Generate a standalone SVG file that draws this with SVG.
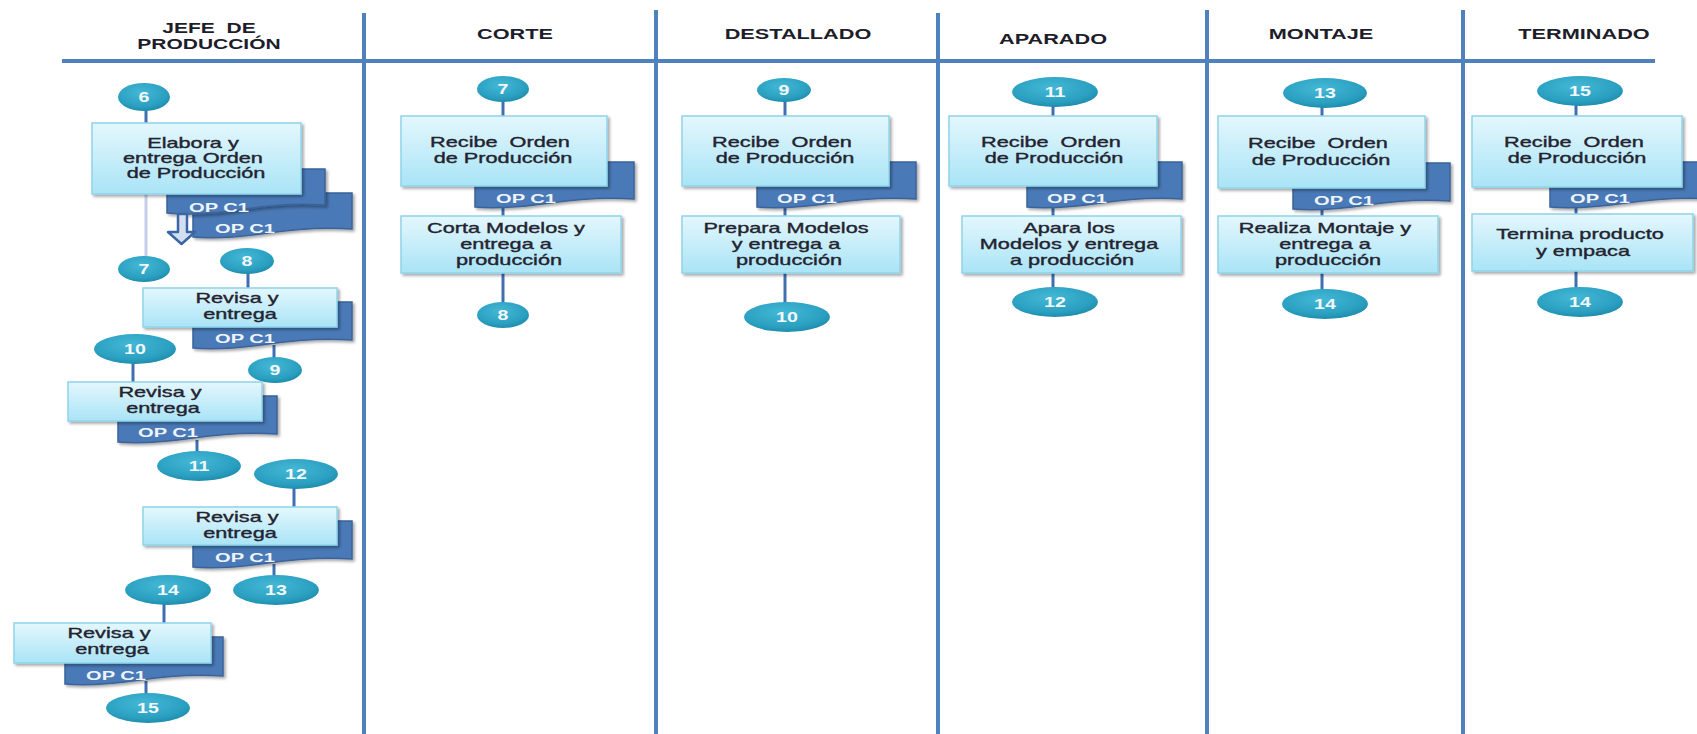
<svg xmlns="http://www.w3.org/2000/svg" width="1697" height="734" viewBox="0 0 1697 734">
  <style>
    .lane { stroke: #4f81bd; stroke-width: 4; fill: none; }
    .hdr { font-family: "Liberation Sans", Arial, sans-serif; font-weight: bold; font-size: 14px; fill: #1d1d2b; text-anchor: middle; }
    .box { fill: url(#boxFill); stroke: #8fd4ea; stroke-width: 1.5; filter: url(#shadow); }
    .bt { font-family: "Liberation Sans", Arial, sans-serif; font-size: 14px; fill: #232330; stroke: #232330; stroke-width: 0.35; text-anchor: middle; }
    .doc { fill: #4a79b6; stroke: #3b6399; stroke-width: 1.5; filter: url(#shadow); }
    .dt { font-family: "Liberation Sans", Arial, sans-serif; font-weight: bold; font-size: 13px; fill: #eef3fa; text-anchor: middle; }
    .oval { fill: url(#ovalFill); }
    .ot { font-family: "Liberation Sans", Arial, sans-serif; font-weight: bold; font-size: 14px; fill: #f2f7fa; text-anchor: middle; }
    .cn { stroke: #3f6fb1; stroke-width: 3; fill: none; }
    .cn-light { stroke: #c6cfe9; stroke-width: 3; fill: none; }
  </style>
  <defs>
    <linearGradient id="boxFill" x1="0" y1="0" x2="0" y2="1">
      <stop offset="0" stop-color="#e4f7fd"/>
      <stop offset="1" stop-color="#a9e4f6"/>
    </linearGradient>
    <radialGradient id="ovalFill" cx="0.45" cy="0.35" r="0.7">
      <stop offset="0" stop-color="#45b8d6"/>
      <stop offset="0.7" stop-color="#2a9fc0"/>
      <stop offset="1" stop-color="#1b87a7"/>
    </radialGradient>
    <filter id="shadow" x="-10%" y="-10%" width="125%" height="130%">
      <feGaussianBlur in="SourceAlpha" stdDeviation="1.5"/>
      <feOffset dx="2" dy="2" result="b"/>
      <feComponentTransfer><feFuncA type="linear" slope="0.35"/></feComponentTransfer>
      <feMerge><feMergeNode/><feMergeNode in="SourceGraphic"/></feMerge>
    </filter>
  </defs>

  <rect width="1697" height="734" fill="#ffffff"/>

  <!-- swimlane frame -->
  <g id="lanes">
    <line class="lane" x1="62" y1="61" x2="1655" y2="61" stroke-width="3"/>
    <line class="lane" x1="364" y1="13" x2="364" y2="734"/>
    <line class="lane" x1="656" y1="10" x2="656" y2="734"/>
    <line class="lane" x1="938" y1="13" x2="938" y2="734"/>
    <line class="lane" x1="1207" y1="10" x2="1207" y2="734"/>
    <line class="lane" x1="1463" y1="10" x2="1463" y2="734"/>
  </g>

  <!-- lane titles -->
  <g id="headers">
    <text class="hdr" transform="translate(209,33) scale(1.5,1)">JEFE&#160; DE</text>
    <text class="hdr" transform="translate(209,49) scale(1.5,1)">PRODUCCIÓN</text>
    <text class="hdr" transform="translate(515,39) scale(1.55,1)">CORTE</text>
    <text class="hdr" transform="translate(798,39) scale(1.55,1)">DESTALLADO</text>
    <text class="hdr" transform="translate(1053,44) scale(1.55,1)">APARADO</text>
    <text class="hdr" transform="translate(1321,39) scale(1.55,1)">MONTAJE</text>
    <text class="hdr" transform="translate(1584,39) scale(1.55,1)">TERMINADO</text>
  </g>

  <!-- connectors -->
  <g id="connectors">
    <line class="cn" x1="146" y1="110" x2="146" y2="124"/>
    <line class="cn-light" x1="146" y1="194" x2="146" y2="257"/>
    <line class="cn" x1="248" y1="273" x2="248" y2="289"/>
    <line class="cn" x1="274" y1="345" x2="274" y2="358"/>
    <line class="cn" x1="133" y1="363" x2="133" y2="383"/>
    <line class="cn" x1="197" y1="440" x2="197" y2="452"/>
    <line class="cn" x1="294" y1="488" x2="294" y2="508"/>
    <line class="cn" x1="274" y1="564" x2="274" y2="576"/>
    <line class="cn" x1="164" y1="604" x2="164" y2="624"/>
    <line class="cn" x1="146" y1="681" x2="146" y2="694"/>

    <line class="cn" x1="503" y1="101" x2="503" y2="117"/>
    <line class="cn" x1="503" y1="205" x2="503" y2="217"/>
    <line class="cn" x1="503" y1="273" x2="503" y2="303"/>

    <line class="cn" x1="785" y1="101" x2="785" y2="117"/>
    <line class="cn" x1="785" y1="205" x2="785" y2="217"/>
    <line class="cn" x1="785" y1="273" x2="785" y2="303"/>

    <line class="cn" x1="1053" y1="106" x2="1053" y2="117"/>
    <line class="cn" x1="1053" y1="205" x2="1053" y2="217"/>
    <line class="cn" x1="1053" y1="273" x2="1053" y2="288"/>

    <line class="cn" x1="1322" y1="107" x2="1322" y2="117"/>
    <line class="cn" x1="1322" y1="207" x2="1322" y2="217"/>
    <line class="cn" x1="1322" y1="273" x2="1322" y2="290"/>

    <line class="cn" x1="1576" y1="105" x2="1576" y2="117"/>
    <line class="cn" x1="1576" y1="205" x2="1576" y2="215"/>
    <line class="cn" x1="1576" y1="271" x2="1576" y2="288"/>
  </g>

  <!-- JEFE DE PRODUCCIÓN -->
  <g id="doc-jefe-1b">
    <path class="doc" d="M193,193 H352 V229 C325,227 295,229 268,233 C240,237 215,239 193,237 Z"/>
    <text class="dt" transform="translate(245,233) scale(1.55,1)">OP C1</text>
  </g>
  <g id="doc-jefe-1a">
    <path class="doc" d="M167,169 H325 V205 C300,203 270,205 245,209 C220,213 190,215 167,213 Z"/>
    <text class="dt" transform="translate(219,212) scale(1.55,1)">OP C1</text>
  </g>
  <g id="arrow-copy">
    <path d="M178,214 H187 V232 H195 L181.5,244 L168,232 H178 Z" fill="#d3def0" stroke="#3a66a5" stroke-width="2.5" stroke-linejoin="round"/>
  </g>
  <g id="box-elabora">
    <rect class="box" x="92" y="123" width="209" height="71"/>
    <text class="bt" transform="translate(196,148) scale(1.55,1)">
      <tspan x="0" y="0">Elabora y</tspan>
      <tspan x="0" y="15">entrega Orden</tspan>
      <tspan x="0" y="30">de Producción</tspan>
    </text>
  </g>
  <g id="oval-j6"><ellipse class="oval" cx="144" cy="97" rx="26" ry="14"/><text class="ot" transform="translate(144,102) scale(1.4,1)">6</text></g>
  <g id="oval-j7"><ellipse class="oval" cx="144" cy="269" rx="26" ry="13"/><text class="ot" transform="translate(144,274) scale(1.4,1)">7</text></g>

  <g id="doc-jefe-2">
    <path class="doc" d="M193,302 H352 V340 C325,338 295,340 268,344 C240,348 215,350 193,348 Z"/>
    <text class="dt" transform="translate(245,343) scale(1.55,1)">OP C1</text>
  </g>
  <g id="box-revisa-1">
    <rect class="box" x="143" y="288" width="194" height="39"/>
    <text class="bt" transform="translate(240,303) scale(1.55,1)">
      <tspan x="0" y="0">Revisa y</tspan>
      <tspan x="0" y="16">entrega</tspan>
    </text>
  </g>
  <g id="oval-j8"><ellipse class="oval" cx="247" cy="261" rx="27" ry="13"/><text class="ot" transform="translate(247,266) scale(1.4,1)">8</text></g>
  <g id="oval-j9"><ellipse class="oval" cx="275" cy="370" rx="27" ry="13"/><text class="ot" transform="translate(275,375) scale(1.4,1)">9</text></g>

  <g id="doc-jefe-3">
    <path class="doc" d="M118,396 H277 V434 C250,432 220,434 193,438 C165,442 140,444 118,442 Z"/>
    <text class="dt" transform="translate(168,437) scale(1.55,1)">OP C1</text>
  </g>
  <g id="box-revisa-2">
    <rect class="box" x="68" y="382" width="194" height="39"/>
    <text class="bt" transform="translate(163,397) scale(1.55,1)">
      <tspan x="0" y="0">Revisa y</tspan>
      <tspan x="0" y="16">entrega</tspan>
    </text>
  </g>
  <g id="oval-j10"><ellipse class="oval" cx="135" cy="349" rx="41" ry="15"/><text class="ot" font-size="13" transform="translate(135,354) scale(1.4,1)">10</text></g>
  <g id="oval-j11"><ellipse class="oval" cx="199" cy="466" rx="42" ry="15"/><text class="ot" font-size="13" transform="translate(199,471) scale(1.4,1)">11</text></g>

  <g id="doc-jefe-4">
    <path class="doc" d="M193,521 H352 V559 C325,557 295,559 268,563 C240,567 215,569 193,567 Z"/>
    <text class="dt" transform="translate(245,562) scale(1.55,1)">OP C1</text>
  </g>
  <g id="box-revisa-3">
    <rect class="box" x="143" y="507" width="194" height="38"/>
    <text class="bt" transform="translate(240,522) scale(1.55,1)">
      <tspan x="0" y="0">Revisa y</tspan>
      <tspan x="0" y="16">entrega</tspan>
    </text>
  </g>
  <g id="oval-j12"><ellipse class="oval" cx="296" cy="474" rx="42" ry="15"/><text class="ot" font-size="13" transform="translate(296,479) scale(1.4,1)">12</text></g>
  <g id="oval-j13"><ellipse class="oval" cx="276" cy="590" rx="43" ry="15"/><text class="ot" font-size="13" transform="translate(276,595) scale(1.4,1)">13</text></g>

  <g id="doc-jefe-5">
    <path class="doc" d="M65,637 H223 V676 C196,674 166,676 140,680 C112,684 88,686 65,684 Z"/>
    <text class="dt" transform="translate(116,680) scale(1.55,1)">OP C1</text>
  </g>
  <g id="box-revisa-4">
    <rect class="box" x="14" y="623" width="197" height="40"/>
    <text class="bt" transform="translate(112,638) scale(1.55,1)">
      <tspan x="0" y="0">Revisa y</tspan>
      <tspan x="0" y="16">entrega</tspan>
    </text>
  </g>
  <g id="oval-j14"><ellipse class="oval" cx="168" cy="590" rx="43" ry="15"/><text class="ot" font-size="13" transform="translate(168,595) scale(1.4,1)">14</text></g>
  <g id="oval-j15"><ellipse class="oval" cx="148" cy="708" rx="42" ry="15"/><text class="ot" font-size="13" transform="translate(148,713) scale(1.4,1)">15</text></g>

  <!-- CORTE -->
  <g id="doc-corte">
    <path class="doc" d="M475,162 H634 V199 C607,197 577,199 550,203 C522,207 497,209 475,207 Z"/>
    <text class="dt" transform="translate(526,203) scale(1.55,1)">OP C1</text>
  </g>
  <g id="box-corte-recibe">
    <rect class="box" x="401" y="116" width="206" height="70"/>
    <text class="bt" transform="translate(503,147) scale(1.55,1)">
      <tspan x="0" y="0">Recibe&#160; Orden</tspan>
      <tspan x="0" y="16">de Producción</tspan>
    </text>
  </g>
  <g id="box-corte-corta">
    <rect class="box" x="401" y="216" width="220" height="57"/>
    <text class="bt" transform="translate(509,233) scale(1.55,1)">
      <tspan x="0" y="0">Corta Modelos y</tspan>
      <tspan x="0" y="16">entrega a</tspan>
      <tspan x="0" y="32">producción</tspan>
    </text>
  </g>
  <g id="oval-c7"><ellipse class="oval" cx="503" cy="89" rx="26" ry="13"/><text class="ot" transform="translate(503,94) scale(1.4,1)">7</text></g>
  <g id="oval-c8"><ellipse class="oval" cx="503" cy="315" rx="26" ry="13"/><text class="ot" transform="translate(503,320) scale(1.4,1)">8</text></g>

  <!-- DESTALLADO -->
  <g id="doc-destallado">
    <path class="doc" d="M757,162 H916 V199 C889,197 859,199 832,203 C804,207 779,209 757,207 Z"/>
    <text class="dt" transform="translate(807,203) scale(1.55,1)">OP C1</text>
  </g>
  <g id="box-dest-recibe">
    <rect class="box" x="682" y="116" width="207" height="70"/>
    <text class="bt" transform="translate(785,147) scale(1.55,1)">
      <tspan x="0" y="0">Recibe&#160; Orden</tspan>
      <tspan x="0" y="16">de Producción</tspan>
    </text>
  </g>
  <g id="box-dest-prepara">
    <rect class="box" x="682" y="216" width="218" height="57"/>
    <text class="bt" transform="translate(789,233) scale(1.55,1)">
      <tspan x="0" y="0">Prepara Modelos</tspan>
      <tspan x="0" y="16">y entrega a</tspan>
      <tspan x="0" y="32">producción</tspan>
    </text>
  </g>
  <g id="oval-d9"><ellipse class="oval" cx="784" cy="90" rx="27" ry="12"/><text class="ot" transform="translate(784,95) scale(1.4,1)">9</text></g>
  <g id="oval-d10"><ellipse class="oval" cx="787" cy="317" rx="43" ry="15"/><text class="ot" font-size="13" transform="translate(787,322) scale(1.4,1)">10</text></g>

  <!-- APARADO -->
  <g id="doc-aparado">
    <path class="doc" d="M1027,162 H1182 V199 C1156,197 1127,199 1101,203 C1074,207 1049,209 1027,207 Z"/>
    <text class="dt" transform="translate(1077,203) scale(1.55,1)">OP C1</text>
  </g>
  <g id="box-apar-recibe">
    <rect class="box" x="949" y="116" width="208" height="70"/>
    <text class="bt" transform="translate(1054,147) scale(1.55,1)">
      <tspan x="0" y="0">Recibe&#160; Orden</tspan>
      <tspan x="0" y="16">de Producción</tspan>
    </text>
  </g>
  <g id="box-apar-apara">
    <rect class="box" x="962" y="216" width="219" height="57"/>
    <text class="bt" transform="translate(1072,233) scale(1.55,1)">
      <tspan x="0" y="0">Apara los</tspan>
      <tspan x="0" y="16">Modelos y entrega</tspan>
      <tspan x="0" y="32">a producción</tspan>
    </text>
  </g>
  <g id="oval-a11"><ellipse class="oval" cx="1055" cy="92" rx="43" ry="15"/><text class="ot" font-size="13" transform="translate(1055,97) scale(1.4,1)">11</text></g>
  <g id="oval-a12"><ellipse class="oval" cx="1055" cy="302" rx="43" ry="15"/><text class="ot" font-size="13" transform="translate(1055,307) scale(1.4,1)">12</text></g>

  <!-- MONTAJE -->
  <g id="doc-montaje">
    <path class="doc" d="M1293,163 H1450 V201 C1423,199 1393,201 1367,205 C1340,209 1315,211 1293,209 Z"/>
    <text class="dt" transform="translate(1344,205) scale(1.55,1)">OP C1</text>
  </g>
  <g id="box-mont-recibe">
    <rect class="box" x="1218" y="116" width="207" height="72"/>
    <text class="bt" transform="translate(1321,148) scale(1.55,1)">
      <tspan x="0" y="0">Recibe&#160; Orden</tspan>
      <tspan x="0" y="17">de Producción</tspan>
    </text>
  </g>
  <g id="box-mont-realiza">
    <rect class="box" x="1218" y="216" width="220" height="57"/>
    <text class="bt" transform="translate(1328,233) scale(1.55,1)">
      <tspan x="0" y="0">Realiza Montaje y</tspan>
      <tspan x="0" y="16">entrega a</tspan>
      <tspan x="0" y="32">producción</tspan>
    </text>
  </g>
  <g id="oval-m13"><ellipse class="oval" cx="1325" cy="93" rx="42" ry="15"/><text class="ot" font-size="13" transform="translate(1325,98) scale(1.4,1)">13</text></g>
  <g id="oval-m14"><ellipse class="oval" cx="1325" cy="304" rx="43" ry="15"/><text class="ot" font-size="13" transform="translate(1325,309) scale(1.4,1)">14</text></g>

  <!-- TERMINADO -->
  <g id="doc-terminado">
    <path class="doc" d="M1550,162 H1712 V199 C1684,197 1654,199 1626,203 C1598,207 1572,209 1550,207 Z"/>
    <text class="dt" transform="translate(1600,203) scale(1.55,1)">OP C1</text>
  </g>
  <g id="box-term-recibe">
    <rect class="box" x="1472" y="116" width="210" height="71"/>
    <text class="bt" transform="translate(1577,147) scale(1.55,1)">
      <tspan x="0" y="0">Recibe&#160; Orden</tspan>
      <tspan x="0" y="16">de Producción</tspan>
    </text>
  </g>
  <g id="box-term-termina">
    <rect class="box" x="1472" y="214" width="221" height="57"/>
    <text class="bt" transform="translate(1583,239) scale(1.55,1)">
      <tspan x="0" y="0">Termina producto</tspan>
      <tspan x="0" y="17">y empaca</tspan>
    </text>
  </g>
  <g id="oval-t15"><ellipse class="oval" cx="1580" cy="91" rx="43" ry="15"/><text class="ot" font-size="13" transform="translate(1580,96) scale(1.4,1)">15</text></g>
  <g id="oval-t14"><ellipse class="oval" cx="1580" cy="302" rx="43" ry="15"/><text class="ot" font-size="13" transform="translate(1580,307) scale(1.4,1)">14</text></g>
</svg>
